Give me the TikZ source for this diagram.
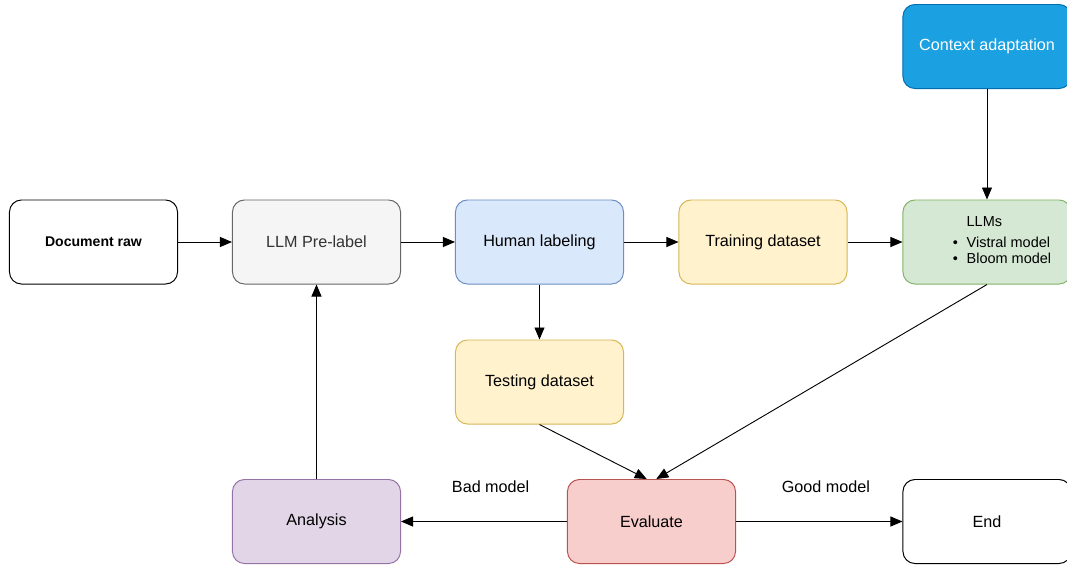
\documentclass[tikz,border=0pt]{standalone}
\usepackage{fontspec}
\setmainfont{Liberation Sans}
\usetikzlibrary{arrows.meta}
\definecolor{greyfill}{HTML}{F5F5F5}
\definecolor{greydraw}{HTML}{666666}
\definecolor{greytext}{HTML}{333333}
\definecolor{bluefill}{HTML}{DAE8FC}
\definecolor{bluedraw}{HTML}{6C8EBF}
\definecolor{yellowfill}{HTML}{FFF2CC}
\definecolor{yellowdraw}{HTML}{D6B656}
\definecolor{greenfill}{HTML}{D5E8D4}
\definecolor{greendraw}{HTML}{82B366}
\definecolor{cyanfill}{HTML}{1BA1E2}
\definecolor{cyandraw}{HTML}{006EAF}
\definecolor{redfill}{HTML}{F8CECC}
\definecolor{reddraw}{HTML}{B85450}
\definecolor{purplefill}{HTML}{E1D5E7}
\definecolor{purpledraw}{HTML}{9673A6}
\begin{document}
\begin{tikzpicture}[
    x=0.025cm, y=-0.025cm,
    stage/.style={draw, rectangle, rounded corners=0.3cm, minimum width=4.2cm,
                  minimum height=2.1cm, text centered, align=center, line width=0.7pt,
                  font=\fontsize{11.5}{14}\selectfont},
    flow/.style={-{Triangle[length=0.3cm,width=0.25cm]}, line width=0.65pt}
]
    \useasboundingbox (0,0) rectangle (1067,568);

    \node[stage, font=\bfseries\fontsize{10}{12}\selectfont] (raw) at (93.5, 242) {Document raw};
    \node[stage, fill=greyfill, draw=greydraw, text=greytext] (pre) at (316.5, 242) {LLM Pre-label};
    \node[stage, fill=bluefill, draw=bluedraw] (human) at (539.5, 242) {Human labeling};
    \node[stage, fill=yellowfill, draw=yellowdraw] (train) at (763, 242) {Training dataset};
    \node[stage, fill=greenfill, draw=greendraw, font=\fontsize{10.3}{11.5}\selectfont] (llm) at (987, 242)
        {\begin{tabular}{@{\hspace{0.75cm}}l@{\hspace{0.22cm}}l@{}}
          & LLMs\\[3pt]
          \textbullet & Vistral model\\
          \textbullet & Bloom model
         \end{tabular}};
    \node[stage, fill=cyanfill, draw=cyandraw, text=white] (ctx) at (987, 46.5) {Context adaptation};

    \node[stage, fill=yellowfill, draw=yellowdraw] (test) at (539.5, 382) {Testing dataset};

    \node[stage, fill=purplefill, draw=purpledraw] (ana) at (316.5, 521.5) {Analysis};
    \node[stage, fill=redfill, draw=reddraw] (eval) at (651.5, 521.5) {Evaluate};
    \node[stage] (end) at (987, 521.5) {End};

    \draw[flow] (raw.east) -- (pre.west);
    \draw[flow] (pre.east) -- (human.west);
    \draw[flow] (human.east) -- (train.west);
    \draw[flow] (train.east) -- (llm.west);
    \draw[flow] (ctx.south) -- (llm.north);
    \draw[flow] (human.south) -- (test.north);
    \draw[flow] (test.south) -- ([xshift=-0.12cm]eval.north);
    \draw[flow] (llm.south) -- ([xshift=0.12cm]eval.north);
    \draw[flow] (eval.west) -- node[above=0.6cm, pos=0.46, font=\fontsize{11.5}{14}\selectfont]{Bad model} (ana.east);
    \draw[flow] (eval.east) -- node[above=0.6cm, pos=0.54, font=\fontsize{11.5}{14}\selectfont]{Good model} (end.west);
    \draw[flow] (ana.north) -- (pre.south);
\end{tikzpicture}
\end{document}
